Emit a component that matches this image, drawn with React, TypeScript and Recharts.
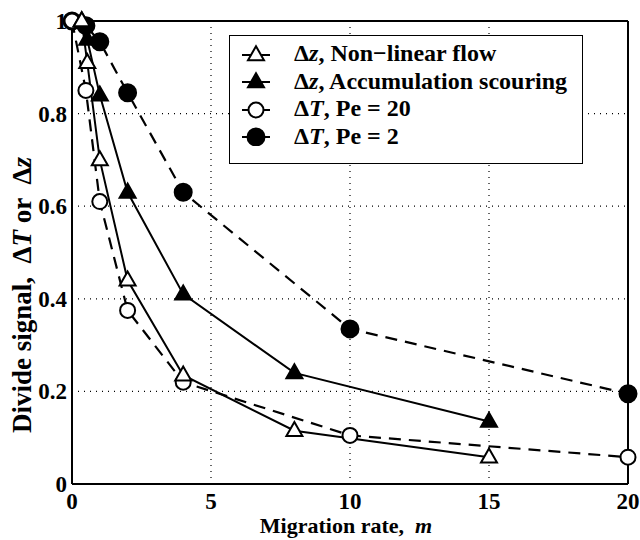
import React from "react";
import { LineChart, Line, XAxis, YAxis, CartesianGrid, ReferenceLine } from "recharts";

// Migration rate (x) and divide signal (y) for each model run
const nonlinearX = [0.35, 0.55, 1, 2, 4, 8, 15];
const nonlinearDz = [1.0, 0.91, 0.7, 0.44, 0.235, 0.115, 0.058];

const scourX = [0.35, 0.55, 1, 2, 4, 8, 15];
const scourDz = [1.0, 0.96, 0.84, 0.63, 0.41, 0.24, 0.135];

const pe20X = [0, 0.5, 1, 2, 4, 10, 20];
const pe20DT = [1.0, 0.85, 0.61, 0.375, 0.22, 0.105, 0.058];

const pe2X = [0, 0.5, 1, 2, 4, 10, 20];
const pe2DT = [1.0, 0.99, 0.955, 0.845, 0.63, 0.335, 0.195];

const xTicks = [0, 5, 10, 15, 20];
const yTicks = [0, 0.2, 0.4, 0.6, 0.8, 1];

const zip = (xs: number[], ys: number[]) => xs.map((x, i) => ({ x, y: ys[i] }));

const FONT = "'Liberation Serif', 'Times New Roman', serif";

type MarkerKind = "triOpen" | "triFilled" | "circOpen" | "circFilled";

const drawMarker = (kind: MarkerKind, cx: number, cy: number, key?: string | number) => {
  if (kind === "triOpen" || kind === "triFilled") {
    const h = 14;
    const w = 16;
    const pts = `${cx},${cy - h * 0.62} ${cx - w / 2},${cy + h * 0.38} ${cx + w / 2},${cy + h * 0.38}`;
    return (
      <polygon
        key={key}
        points={pts}
        fill={kind === "triFilled" ? "#000" : "#fff"}
        stroke="#000"
        strokeWidth={2}
        strokeLinejoin="miter"
      />
    );
  }
  return (
    <circle
      key={key}
      cx={cx}
      cy={cy}
      r={kind === "circFilled" ? 8.5 : 7.5}
      fill={kind === "circFilled" ? "#000" : "#fff"}
      stroke="#000"
      strokeWidth={2}
    />
  );
};

const markerDot = (kind: MarkerKind) => (props: any) => {
  const { cx, cy, index } = props;
  if (cx == null || cy == null) return <g key={index} />;
  return drawMarker(kind, cx, cy, index);
};

// Axis geometry (plot box edges in pixels)
const PLOT_LEFT = 72;
const PLOT_BOTTOM = 484;

const XTick = (props: any) => {
  const { x, payload } = props;
  return (
    <text x={x} y={PLOT_BOTTOM + 25} textAnchor="middle" fontFamily={FONT} fontWeight="bold" fontSize={23} fill="#000">
      {payload.value}
    </text>
  );
};

const YTick = (props: any) => {
  const { y, payload } = props;
  return (
    <text x={PLOT_LEFT - 5} y={y + 8} textAnchor="end" fontFamily={FONT} fontWeight="bold" fontSize={23} fill="#000">
      {payload.value}
    </text>
  );
};

const legendItems: { kind: MarkerKind; sym: string; italic: string; rest: string }[] = [
  { kind: "triOpen", sym: "\u0394", italic: "z", rest: ", Non\u2212linear flow" },
  { kind: "triFilled", sym: "\u0394", italic: "z", rest: ", Accumulation scouring" },
  { kind: "circOpen", sym: "\u0394", italic: "T", rest: ", Pe = 20" },
  { kind: "circFilled", sym: "\u0394", italic: "T", rest: ", Pe = 2" },
];

const LegendBox = () => (
  <div
    style={{
      position: "absolute",
      left: 229,
      top: 35,
      width: 354,
      height: 129,
      border: "1.5px solid #000",
      background: "#fff",
      padding: "4px 0 0 10px",
      fontFamily: FONT,
      fontWeight: "bold",
      fontSize: 24,
      color: "#000",
      boxSizing: "border-box",
    }}
  >
    {legendItems.map((it) => (
      <div key={it.rest} style={{ display: "flex", alignItems: "center", height: 27.5 }}>
        <svg width={32} height={20} style={{ marginRight: 22, flexShrink: 0 }}>
          <line x1={2} y1={11} x2={30} y2={11} stroke="#000" strokeWidth={2} />
          {drawMarker(it.kind, 16, 11)}
        </svg>
        <span style={{ whiteSpace: "nowrap" }}>
          {it.sym}
          <i>{it.italic}</i>
          {it.rest}
        </span>
      </div>
    ))}
  </div>
);

export default function App() {
  return (
    <div style={{ position: "absolute", left: 0, top: 0, width: 640, height: 540, background: "#fff" }}>
      <LineChart width={640} height={540} margin={{ top: 21, right: 12, left: 0, bottom: 0 }}>
        <CartesianGrid stroke="#000" strokeDasharray="1 5" strokeWidth={1.2} />
        <XAxis
          type="number"
          dataKey="x"
          domain={[0, 20]}
          ticks={xTicks}
          allowDuplicatedCategory={false}
          height={56}
          tickLine={false}
          stroke="#000"
          strokeWidth={2}
          tick={<XTick />}
          label={(p: any) => {
            const vb = p.viewBox;
            return (
              <text
                x={vb.x + vb.width / 2 - 4}
                y={533}
                textAnchor="middle"
                fontFamily={FONT}
                fontWeight="bold"
                fontSize={22}
                fill="#000"
              >
                Migration rate,&#160;
                <tspan fontStyle="italic"> m</tspan>
              </text>
            );
          }}
        />
        <YAxis
          type="number"
          domain={[0, 1]}
          ticks={yTicks}
          width={72}
          tickLine={false}
          stroke="#000"
          strokeWidth={2}
          tick={<YTick />}
          label={() => (
            <text
              x={22}
              y={295}
              transform="rotate(-90 22 295)"
              textAnchor="middle"
              dominantBaseline="central"
              fontFamily={FONT}
              fontWeight="bold"
              fontSize={27}
              fill="#000"
            >
              Divide signal,&#160;&#160;{"\u0394"}
              <tspan fontStyle="italic">T</tspan> or&#160;&#160;{"\u0394"}
              <tspan fontStyle="italic">z</tspan>
            </text>
          )}
        />
        <ReferenceLine y={1} stroke="#000" strokeWidth={2} />
        <ReferenceLine x={20} stroke="#000" strokeWidth={2} />
        <Line
          data={zip(pe2X, pe2DT)}
          dataKey="y"
          name="pe2"
          stroke="#000"
          strokeWidth={2.2}
          strokeDasharray="12 8"
          dot={markerDot("circFilled")}
          isAnimationActive={false}
        />
        <Line
          data={zip(pe20X, pe20DT)}
          dataKey="y"
          name="pe20"
          stroke="#000"
          strokeWidth={2.2}
          strokeDasharray="12 8"
          dot={markerDot("circOpen")}
          isAnimationActive={false}
        />
        <Line
          data={zip(scourX, scourDz)}
          dataKey="y"
          name="scour"
          stroke="#000"
          strokeWidth={2}
          dot={markerDot("triFilled")}
          isAnimationActive={false}
        />
        <Line
          data={zip(nonlinearX, nonlinearDz)}
          dataKey="y"
          name="nonlinear"
          stroke="#000"
          strokeWidth={2}
          dot={markerDot("triOpen")}
          isAnimationActive={false}
        />
      </LineChart>
      <LegendBox />
    </div>
  );
}
